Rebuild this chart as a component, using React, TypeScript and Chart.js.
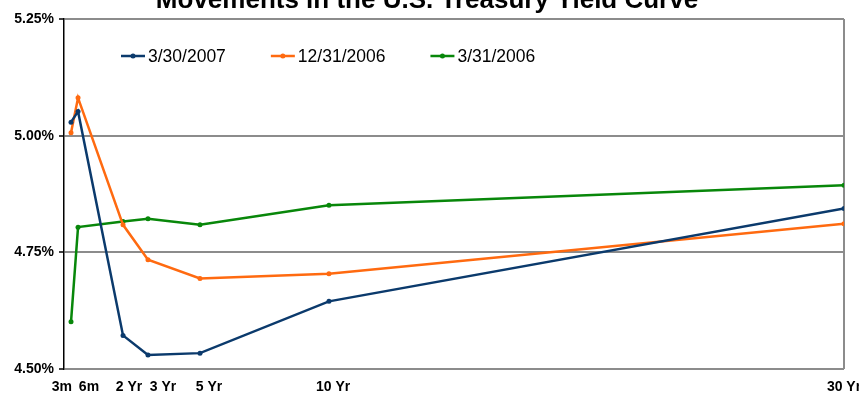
import React, { useEffect, useRef } from "react";
import { Chart, registerables } from "chart.js";

Chart.register(...registerables);

const chartTitle = "Movements in the U.S. Treasury Yield Curve";
const maturityLabels = ["3m", "6m", "2 Yr", "3 Yr", "5 Yr", "10 Yr", "30 Yr"];
const maturityYears = [0.27, 0.54, 2.27, 3.23, 5.23, 10.19, 30];
const labelYears = [-0.08, 0.96, 2.5, 3.81, 5.58, 10.35, 30];
const seriesNames = ["3/30/2007", "12/31/2006", "3/31/2006"];
const yields20070330 = [5.029, 5.052, 4.572, 4.53, 4.534, 4.645, 4.844];
const yields20061231 = [5.006, 5.081, 4.809, 4.734, 4.694, 4.704, 4.811];
const yields20060331 = [4.601, 4.804, 4.816, 4.822, 4.809, 4.851, 4.894];
const yTickValues = [4.5, 4.75, 5.0, 5.25];
const seriesColors = ["#0b3a6c", "#ff6a10", "#08870a"];

const FONT = '"Liberation Sans", Arial, sans-serif';
const GRID = "#8c8c8c";

const titlePlugin = {
  id: "topTitle",
  afterDraw(chart: any) {
    const ctx = chart.ctx;
    ctx.save();
    ctx.font = `bold 26px ${FONT}`;
    ctx.fillStyle = "#000";
    ctx.textAlign = "center";
    ctx.textBaseline = "alphabetic";
    ctx.fillText(chartTitle, 427, 8);
    ctx.restore();
  },
};

const legendPlugin = {
  id: "innerLegend",
  afterDraw(chart: any) {
    const ctx = chart.ctx;
    ctx.save();
    ctx.font = `17.5px ${FONT}`;
    ctx.textBaseline = "middle";
    ctx.textAlign = "left";
    let x = 121;
    const y = 56;
    chart.data.datasets.forEach((ds: any) => {
      ctx.strokeStyle = ds.borderColor;
      ctx.lineWidth = 2.5;
      ctx.beginPath();
      ctx.moveTo(x, y);
      ctx.lineTo(x + 24, y);
      ctx.stroke();
      ctx.fillStyle = ds.borderColor;
      ctx.beginPath();
      ctx.arc(x + 12, y, 2.5, 0, Math.PI * 2);
      ctx.fill();
      ctx.fillStyle = "#000";
      ctx.fillText(ds.label, x + 27, y + 1);
      x += 27 + ctx.measureText(ds.label).width + 45;
    });
    ctx.restore();
  },
};

export default function App() {
  const canvasRef = useRef<HTMLCanvasElement | null>(null);

  useEffect(() => {
    if (!canvasRef.current) return;
    const series = [yields20070330, yields20061231, yields20060331];
    const chart = new Chart(canvasRef.current, {
      type: "line",
      data: {
        datasets: series.map((vals, i) => ({
          label: seriesNames[i],
          data: maturityYears.map((x, j) => ({ x, y: vals[j] })),
          borderColor: seriesColors[i],
          backgroundColor: seriesColors[i],
          borderWidth: 2.5,
          pointRadius: 2.5,
          pointBorderWidth: 0,
          tension: 0,
        })),
      },
      options: {
        animation: false,
        responsive: false,
        devicePixelRatio: 1,
        layout: { padding: { top: 19, right: 15, left: 0, bottom: 0 } },
        plugins: {
          legend: { display: false },
          title: { display: false },
          tooltip: { enabled: false },
        },
        scales: {
          x: {
            type: "linear",
            min: 0,
            max: 30,
            afterBuildTicks: (s: any) => {
              s.ticks = labelYears.map((v) => ({ value: v }));
            },
            afterFit: (s: any) => {
              s.height = 26;
              s.paddingLeft = 0;
              s.paddingRight = 0;
            },
            ticks: {
              autoSkip: false,
              maxRotation: 0,
              minRotation: 0,
              padding: 10,
              color: "#000",
              font: { family: FONT, size: 14, weight: "bold" },
              callback: (_v: any, i: number) => maturityLabels[i],
            },
            grid: {
              display: true,
              drawTicks: false,
              lineWidth: 2,
              color: (c: any) => (c.tick && c.tick.value === 30 ? GRID : "rgba(0,0,0,0)"),
            },
            border: { display: false },
          },
          y: {
            type: "linear",
            min: 4.5,
            max: 5.25,
            afterBuildTicks: (s: any) => {
              s.ticks = yTickValues.map((v) => ({ value: v }));
            },
            afterFit: (s: any) => {
              s.width = 64;
            },
            ticks: {
              padding: 5,
              color: "#000",
              font: { family: FONT, size: 14, weight: "bold" },
              callback: (v: any) => Number(v).toFixed(2) + "%",
            },
            grid: {
              color: GRID,
              lineWidth: 2,
              tickColor: "#000",
              tickLength: 5,
              tickWidth: 1.5,
            },
            border: { display: true, color: "#000", width: 1.5 },
          },
        },
      },
      plugins: [titlePlugin, legendPlugin],
    } as any);
    return () => chart.destroy();
  }, []);

  return (
    <div
      style={{
        position: "fixed",
        left: 0,
        top: 0,
        width: 859,
        height: 395,
        background: "#fff",
      }}
    >
      <canvas ref={canvasRef} width={859} height={395} style={{ display: "block" }} />
    </div>
  );
}
